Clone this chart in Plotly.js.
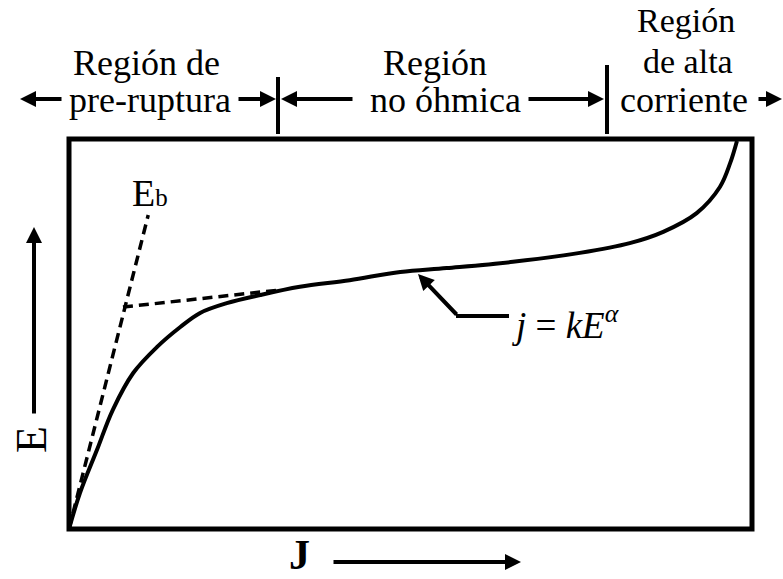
<!DOCTYPE html>
<html>
<head>
<meta charset="utf-8">
<script src="https://cdn.plot.ly/plotly-3.0.1.min.js"></script>
<style>
  html, body { margin: 0; padding: 0; background: #fff; }
  #chart { width: 783px; height: 579px; }
</style>
</head>
<body>
<div id="chart"></div>
<script>
// Characteristic E–J curve of a varistor (arbitrary units)
const curveJ = [0.0, 0.16, 0.41, 0.64, 0.94, 1.29, 1.63, 1.92, 2.31, 2.80, 3.38, 4.11, 4.85, 5.53, 6.50, 7.48, 8.21, 8.70, 9.19, 9.53, 9.68, 9.78];
const curveE = [0.0, 0.92, 2.03, 3.05, 4.00, 4.67, 5.18, 5.54, 5.79, 6.00, 6.21, 6.38, 6.59, 6.69, 6.85, 7.08, 7.33, 7.62, 8.10, 8.77, 9.38, 9.95];

// Tangent construction: initial slope up to E_b, and the non-ohmic asymptote
const slopeJ = [0.0, 1.16];
const slopeE = [0.0, 8.05];
const tangentJ = [0.79, 3.09];
const tangentE = [5.69, 6.13];

// Text labels
const regionLabels = ['Región de', 'pre-ruptura', 'Región', 'no óhmica', 'Región', 'de alta', 'corriente'];
const axisLabelE = 'E';
const axisLabelJ = 'J';
const breakdownLabel = 'E<span style="font-size:25px">b</span>';
const lawLabel = '<i>j</i>\u00a0=\u00a0<i>kE</i><sup><i>α</i></sup>';

// Plot area in pixels
const L = 69, R = 752, T = 139, B = 529;
const W = 783, H = 579;
const px = x => (x - L) / (R - L);
const py = y => (B - y) / (B - T);

const serif = 'Liberation Serif, Times New Roman, serif';
const black = '#000';

function text(t, cx, cy, size, extra) {
  return Object.assign({
    text: t, xref: 'paper', yref: 'paper', x: px(cx), y: py(cy),
    xanchor: 'center', yanchor: 'middle', showarrow: false,
    font: { family: serif, size: size, color: black }
  }, extra || {});
}

// Arrow from tail (x0,y0) to tip (x1,y1), in pixels
function arrow(x0, y0, x1, y1) {
  return {
    text: '', xref: 'paper', yref: 'paper', x: px(x1), y: py(y1),
    ax: x0 - x1, ay: y0 - y1, showarrow: true,
    arrowhead: 2, arrowsize: 0.8, arrowwidth: 4, arrowcolor: black,
    standoff: 0, startstandoff: 0
  };
}

function segment(x0, y0, x1, y1, w) {
  return {
    type: 'line', xref: 'paper', yref: 'paper',
    x0: px(x0), y0: py(y0), x1: px(x1), y1: py(y1),
    line: { color: black, width: w }
  };
}

const traces = [
  { x: slopeJ, y: slopeE, mode: 'lines', line: { color: black, width: 3.5, dash: '10px,6px' }, hoverinfo: 'skip' },
  { x: tangentJ, y: tangentE, mode: 'lines', line: { color: black, width: 3.5, dash: '10px,6px' }, hoverinfo: 'skip' },
  { x: curveJ, y: curveE, mode: 'lines', line: { color: black, width: 4, shape: 'spline', smoothing: 1 }, hoverinfo: 'skip' }
];

const annotations = [
  text(regionLabels[0], 146, 63, 36),
  text(regionLabels[1], 150, 100, 36),
  text(regionLabels[2], 435, 63, 36),
  text(regionLabels[3], 445, 100, 36),
  text(regionLabels[4], 686, 21, 34),
  text(regionLabels[5], 688, 61, 34),
  text(regionLabels[6], 684, 100, 36),
  arrow(63, 99, 20, 99),
  arrow(237, 99, 276, 99),
  arrow(354, 99, 281, 99),
  arrow(527, 99, 604, 99),
  arrow(757, 99, 790, 99),
  arrow(34, 415, 34, 227),
  arrow(332, 562, 521, 562),
  text(axisLabelE, 31, 440, 44, { textangle: -90 }),
  text(axisLabelJ, 299, 555, 42, { font: { family: serif, size: 42, color: black, weight: 'bold' } }),
  text(breakdownLabel, 150, 193, 38),
  text(lawLabel, 510, 322, 37, { xanchor: 'left' }),
  arrow(458, 316, 418, 274)
];

const shapes = [
  { type: 'rect', xref: 'paper', yref: 'paper', x0: 0, x1: 1, y0: 0, y1: 1, line: { color: black, width: 5 } },
  segment(278, 77, 278, 134, 4),
  segment(607, 65, 607, 134, 4),
  segment(509, 316, 456, 316, 4)
];

const hidden = { range: [0, 10], showgrid: false, zeroline: false, showticklabels: false, ticks: '', showline: false, fixedrange: true };

Plotly.newPlot('chart', traces, {
  width: W, height: H,
  margin: { l: L, r: W - R, t: T, b: H - B, pad: 0 },
  paper_bgcolor: '#fff', plot_bgcolor: '#fff',
  showlegend: false,
  xaxis: hidden, yaxis: Object.assign({}, hidden),
  annotations: annotations, shapes: shapes
}, { staticPlot: true });
</script>
</body>
</html>
